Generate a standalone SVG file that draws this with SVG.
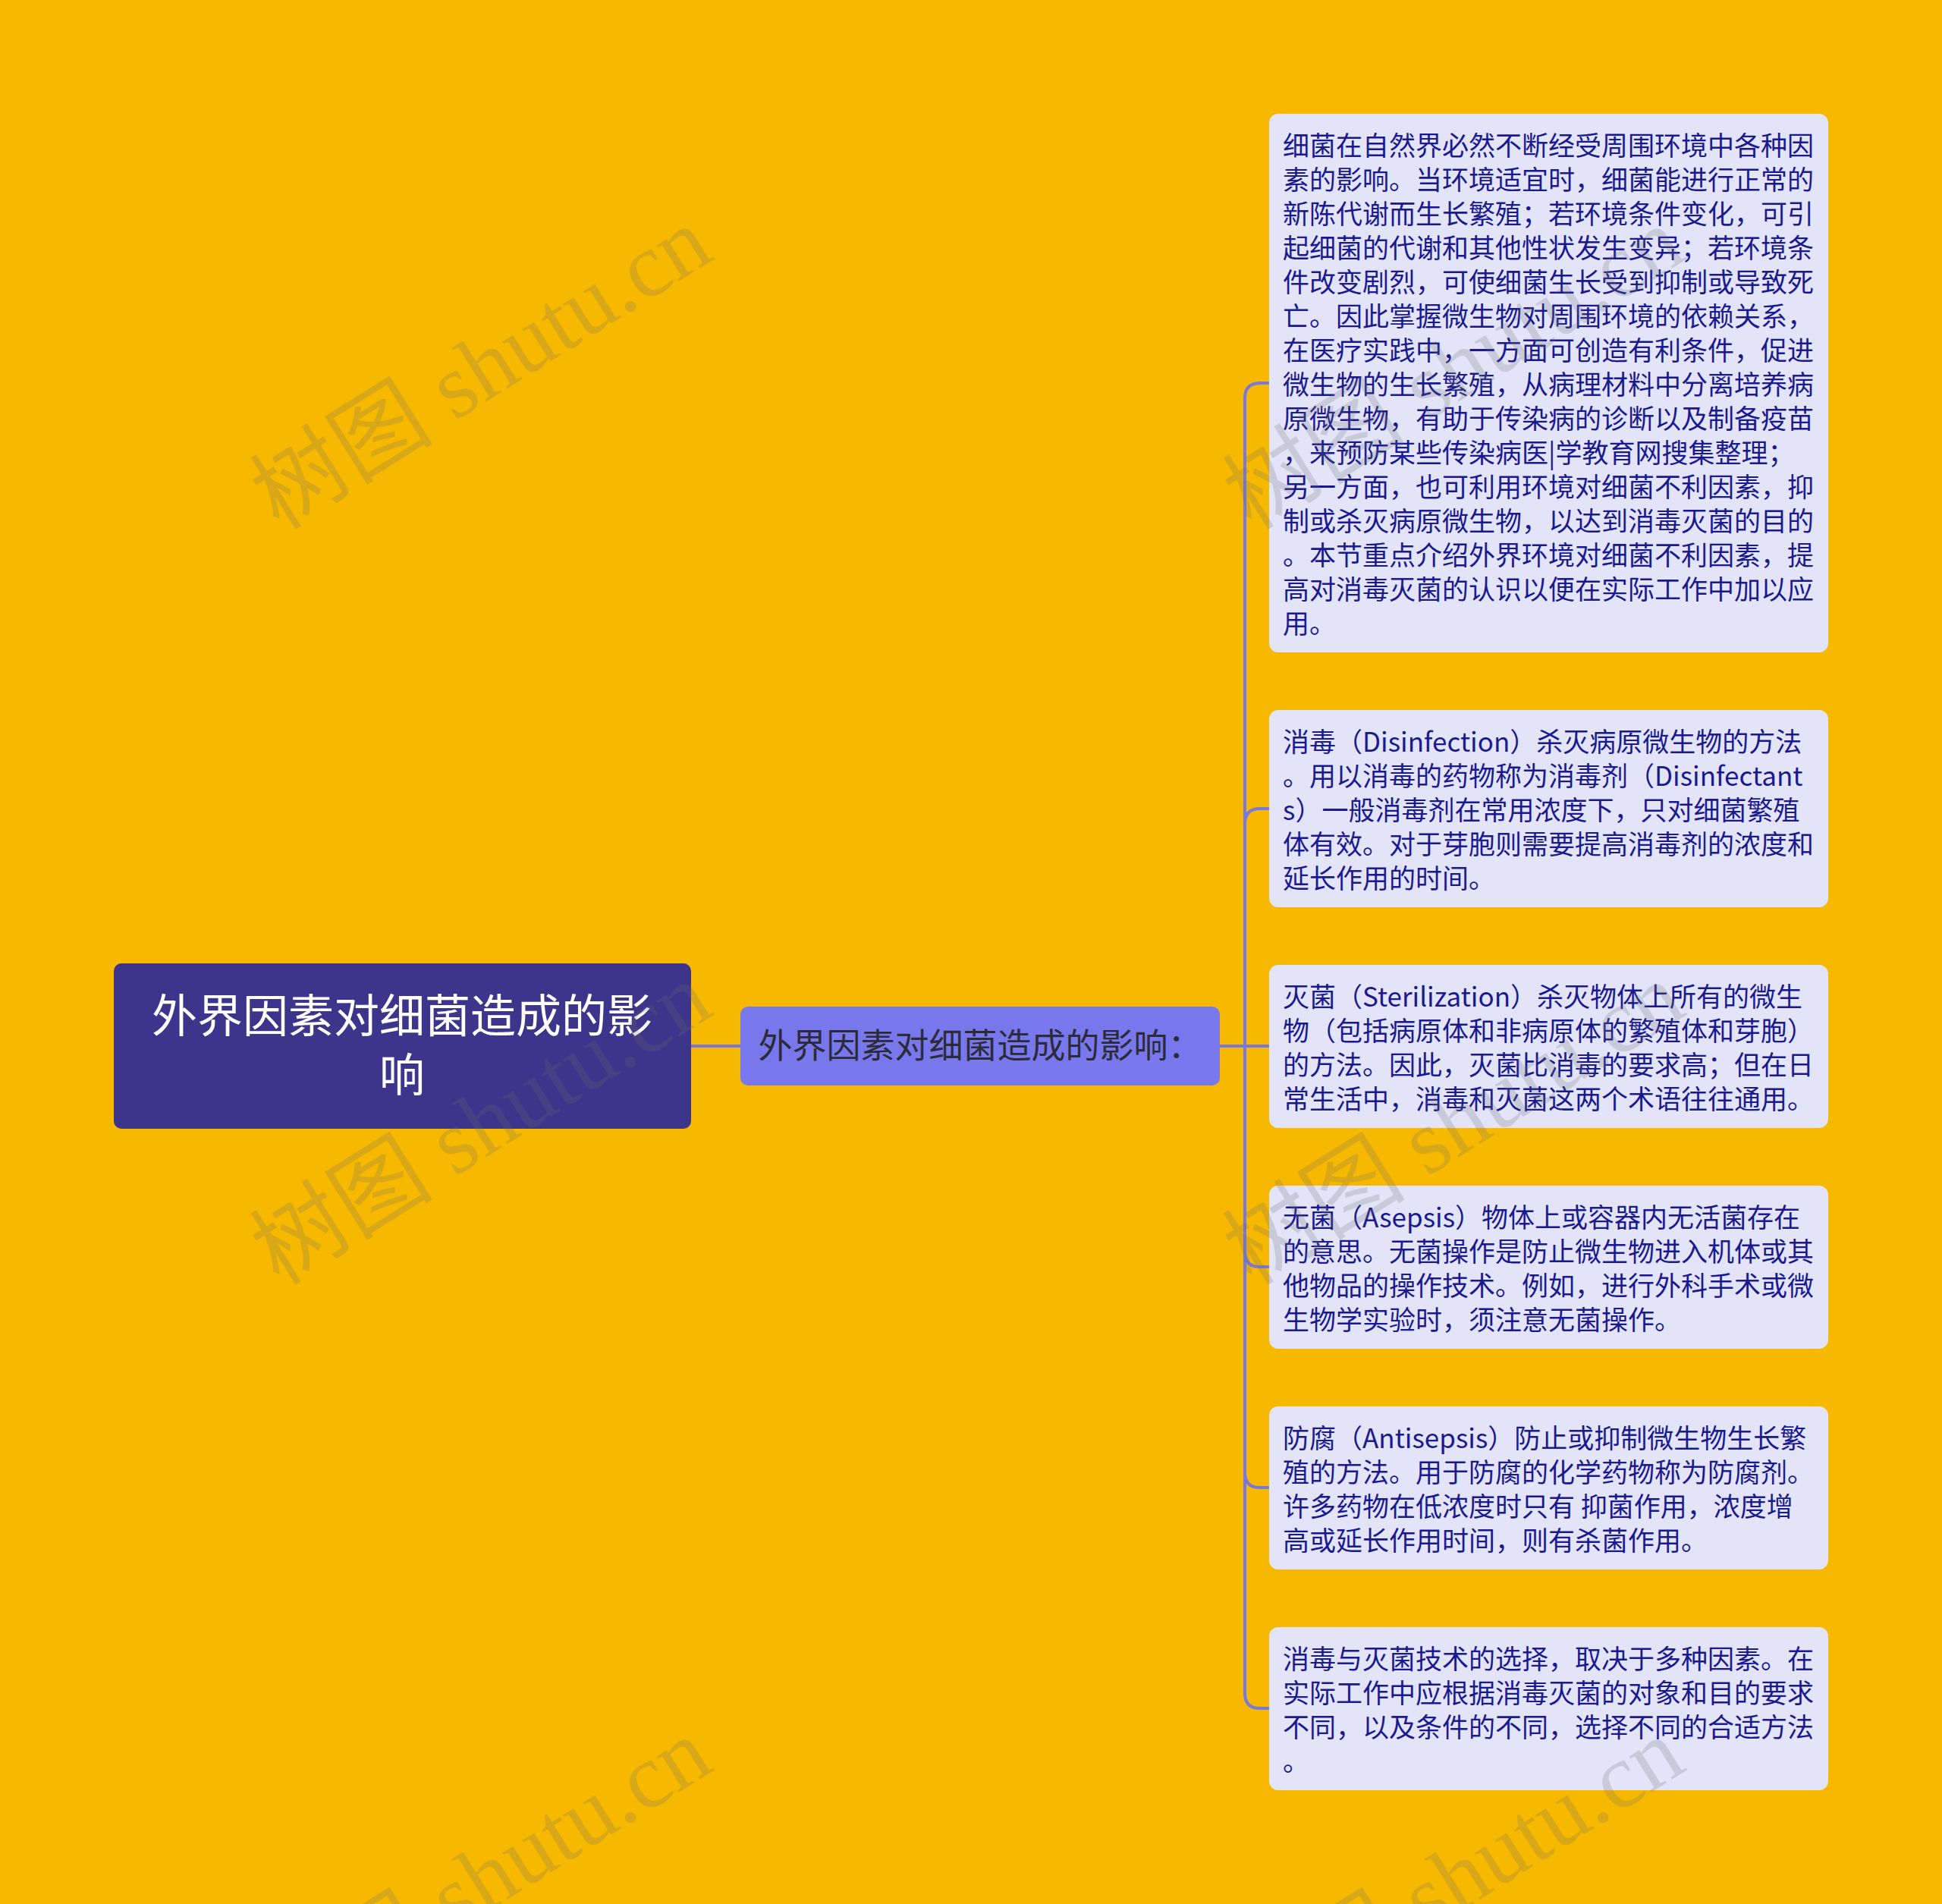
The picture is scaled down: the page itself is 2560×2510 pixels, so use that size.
<svg xmlns="http://www.w3.org/2000/svg" width="2560" height="2510" viewBox="0 0 2560 2510">
<style>
.bg{fill:#F6B900}
.root{fill:#3D358B}
.roott{font-family:"Noto Sans CJK SC","Noto Sans",sans-serif;font-size:60px;fill:#FFFFFF;text-anchor:middle}
.mid{fill:#7878EC}
.midt{font-family:"Noto Sans CJK SC","Noto Sans",sans-serif;font-size:45px;fill:#2B2B3A;text-anchor:middle}
.leaf{fill:#E3E4F8}
.leaft{font-family:"Noto Sans CJK SC","Noto Sans",sans-serif;font-size:35px;fill:#1A1A8E}
.conn{fill:none;stroke:#7878E0;stroke-width:4}
.wm{font-family:"Liberation Serif","Noto Sans CJK SC",serif;font-size:121px;fill:#6E6E6E;fill-opacity:0.22}
</style>
<rect class="bg" x="0" y="0" width="2560" height="2510"/>
<g id="connectors">
<path class="conn" d="M911,1379 H976"/>
<path class="conn" d="M1608,1379 H1641"/>
<path class="conn" d="M1641,1379 V525 Q1641,505 1661,505 H1673"/>
<path class="conn" d="M1641,1379 V1086 Q1641,1066 1661,1066 H1673"/>
<path class="conn" d="M1641,1379 H1673"/>
<path class="conn" d="M1641,1379 V1650 Q1641,1670 1661,1670 H1673"/>
<path class="conn" d="M1641,1379 V1941 Q1641,1961 1661,1961 H1673"/>
<path class="conn" d="M1641,1379 V2232 Q1641,2252 1661,2252 H1673"/>
</g>
<g id="root">
<rect class="root" x="150" y="1270" width="761" height="218" rx="10"/>
<text class="roott" x="530" y="1361">外界因素对细菌造成的影</text>
<text class="roott" x="530" y="1439">响</text>
</g>
<g id="middle">
<rect class="mid" x="976" y="1327" width="632" height="104" rx="10"/>
<text class="midt" x="1292" y="1395">外界因素对细菌造成的影响：</text>
</g>
<g id="n1">
<rect class="leaf" x="1673" y="150" width="737" height="710" rx="12"/>
<text class="leaft">
<tspan x="1691" y="205">细菌在自然界必然不断经受周围环境中各种因</tspan>
<tspan x="1691" y="250">素的影响。当环境适宜时，细菌能进行正常的</tspan>
<tspan x="1691" y="295">新陈代谢而生长繁殖；若环境条件变化，可引</tspan>
<tspan x="1691" y="340">起细菌的代谢和其他性状发生变异；若环境条</tspan>
<tspan x="1691" y="385">件改变剧烈，可使细菌生长受到抑制或导致死</tspan>
<tspan x="1691" y="430">亡。因此掌握微生物对周围环境的依赖关系，</tspan>
<tspan x="1691" y="475">在医疗实践中，一方面可创造有利条件，促进</tspan>
<tspan x="1691" y="520">微生物的生长繁殖，从病理材料中分离培养病</tspan>
<tspan x="1691" y="565">原微生物，有助于传染病的诊断以及制备疫苗</tspan>
<tspan x="1691" y="610">，来预防某些传染病医|学教育网搜集整理；</tspan>
<tspan x="1691" y="655">另一方面，也可利用环境对细菌不利因素，抑</tspan>
<tspan x="1691" y="700">制或杀灭病原微生物，以达到消毒灭菌的目的</tspan>
<tspan x="1691" y="745">。本节重点介绍外界环境对细菌不利因素，提</tspan>
<tspan x="1691" y="790">高对消毒灭菌的认识以便在实际工作中加以应</tspan>
<tspan x="1691" y="835">用。</tspan>
</text>
</g>
<g id="n2">
<rect class="leaf" x="1673" y="936" width="737" height="260" rx="12"/>
<text class="leaft">
<tspan x="1691" y="991">消毒（Disinfection）杀灭病原微生物的方法</tspan>
<tspan x="1691" y="1036">。用以消毒的药物称为消毒剂（Disinfectant</tspan>
<tspan x="1691" y="1081">s）一般消毒剂在常用浓度下，只对细菌繁殖</tspan>
<tspan x="1691" y="1126">体有效。对于芽胞则需要提高消毒剂的浓度和</tspan>
<tspan x="1691" y="1171">延长作用的时间。</tspan>
</text>
</g>
<g id="n3">
<rect class="leaf" x="1673" y="1272" width="737" height="215" rx="12"/>
<text class="leaft">
<tspan x="1691" y="1327">灭菌（Sterilization）杀灭物体上所有的微生</tspan>
<tspan x="1691" y="1372">物（包括病原体和非病原体的繁殖体和芽胞）</tspan>
<tspan x="1691" y="1417">的方法。因此，灭菌比消毒的要求高；但在日</tspan>
<tspan x="1691" y="1462">常生活中，消毒和灭菌这两个术语往往通用。</tspan>
</text>
</g>
<g id="n4">
<rect class="leaf" x="1673" y="1563" width="737" height="215" rx="12"/>
<text class="leaft">
<tspan x="1691" y="1618">无菌（Asepsis）物体上或容器内无活菌存在</tspan>
<tspan x="1691" y="1663">的意思。无菌操作是防止微生物进入机体或其</tspan>
<tspan x="1691" y="1708">他物品的操作技术。例如，进行外科手术或微</tspan>
<tspan x="1691" y="1753">生物学实验时，须注意无菌操作。</tspan>
</text>
</g>
<g id="n5">
<rect class="leaf" x="1673" y="1854" width="737" height="215" rx="12"/>
<text class="leaft">
<tspan x="1691" y="1909">防腐（Antisepsis）防止或抑制微生物生长繁</tspan>
<tspan x="1691" y="1954">殖的方法。用于防腐的化学药物称为防腐剂。</tspan>
<tspan x="1691" y="1999">许多药物在低浓度时只有 抑菌作用，浓度增</tspan>
<tspan x="1691" y="2044">高或延长作用时间，则有杀菌作用。</tspan>
</text>
</g>
<g id="n6">
<rect class="leaf" x="1673" y="2145" width="737" height="215" rx="12"/>
<text class="leaft">
<tspan x="1691" y="2200">消毒与灭菌技术的选择，取决于多种因素。在</tspan>
<tspan x="1691" y="2245">实际工作中应根据消毒灭菌的对象和目的要求</tspan>
<tspan x="1691" y="2290">不同，以及条件的不同，选择不同的合适方法</tspan>
<tspan x="1691" y="2335">。</tspan>
</text>
</g>
<g id="watermarks">
<text class="wm" transform="translate(368,700) rotate(-32)">树图 shutu.cn</text>
<text class="wm" transform="translate(368,1696) rotate(-32)">树图 shutu.cn</text>
<text class="wm" transform="translate(368,2692) rotate(-32)">树图 shutu.cn</text>
<text class="wm" transform="translate(1650,700) rotate(-32)">树图 shutu.cn</text>
<text class="wm" transform="translate(1650,1696) rotate(-32)">树图 shutu.cn</text>
<text class="wm" transform="translate(1650,2692) rotate(-32)">树图 shutu.cn</text>
</g>
</svg>
